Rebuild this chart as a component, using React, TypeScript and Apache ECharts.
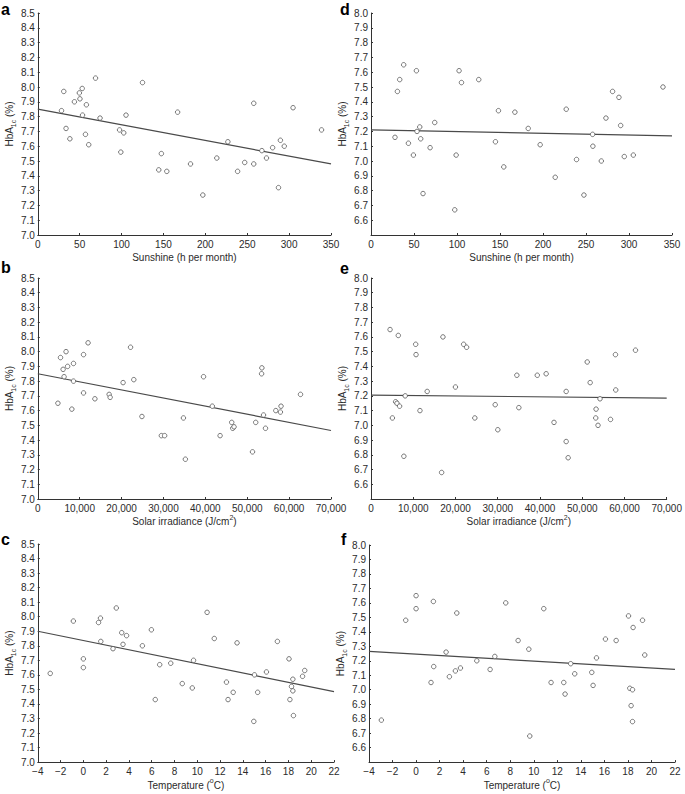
import React, { useEffect, useRef } from "react";
import * as echarts from "echarts";

// ---- Data ----
const sunshineA = [28.3,31,33.7,38.3,43.7,49.6,50.3,53,53.4,56.9,58,60.8,68.9,74.3,97.6,99.1,102.6,105.3,125,144.4,147.5,154,166.9,182.3,197,213.7,226.9,238.5,247,257.8,257.8,267.5,273,280.3,287.3,289.6,294.2,304.7,338.7];
const hbaA = [7.84,7.97,7.72,7.65,7.90,7.96,7.92,7.99,7.81,7.68,7.88,7.61,8.06,7.79,7.71,7.56,7.69,7.81,8.03,7.44,7.55,7.43,7.83,7.48,7.27,7.52,7.63,7.43,7.49,7.89,7.48,7.57,7.52,7.59,7.32,7.64,7.60,7.86,7.71];

const sunshineD = [27.9,30.7,33.4,38,43.5,49.3,52.8,53.5,56.7,57.8,60.5,68.7,74.1,97.4,99,102.4,105.2,125.3,144.7,148.2,154.4,167.3,182.8,196.7,214.2,227,239,247.6,257.7,258,267.8,273.2,280.9,288.3,290.3,294.5,305,339.5];
const hbaD = [7.16,7.47,7.55,7.65,7.12,7.04,7.61,7.20,7.23,7.15,6.78,7.09,7.26,6.67,7.04,7.61,7.53,7.55,7.13,7.34,6.96,7.33,7.22,7.11,6.89,7.35,7.01,6.77,7.18,7.10,7.00,7.29,7.47,7.43,7.24,7.03,7.04,7.50];

const solarB = [4800,5420,6040,6270,6740,7120,8130,8520,8520,10920,10920,12000,13630,17030,17270,20360,22140,22920,24860,29500,30280,34770,35230,39570,41660,43520,46300,46540,46850,51260,52030,53430,53500,53890,54360,56830,57920,58070,62720];
const hbaB = [7.65,7.96,7.88,7.83,8.00,7.90,7.61,7.80,7.92,7.98,7.72,8.06,7.68,7.71,7.69,7.79,8.03,7.81,7.56,7.43,7.43,7.55,7.27,7.83,7.63,7.43,7.52,7.48,7.49,7.32,7.52,7.85,7.89,7.57,7.48,7.60,7.59,7.63,7.71];

const solarE = [4510,5060,5830,6150,6460,6770,7780,8090,10580,10660,11590,13300,16720,17030,19990,21930,22630,24580,29400,30020,34530,35000,39360,41460,43320,46200,46200,46670,51180,51880,53200,53280,53740,54210,56700,57870,57940,62610];
const hbaE = [7.65,7.05,7.16,7.15,7.61,7.13,6.79,7.20,7.55,7.48,7.10,7.23,6.68,7.60,7.26,7.55,7.53,7.05,7.14,6.97,7.34,7.12,7.34,7.35,7.02,6.89,7.23,6.78,7.43,7.29,7.05,7.11,7.00,7.18,7.04,7.48,7.24,7.51];

const tempC = [-2.91,-0.88,0,0,1.33,1.5,1.53,2.6,2.89,3.37,3.48,3.79,5.18,5.97,6.31,6.7,7.67,8.68,9.56,9.67,10.86,11.49,12.56,12.7,13.15,13.49,14.96,15.02,15.3,16.07,17.03,18.05,18.13,18.27,18.39,18.39,18.44,19.24,19.43];
const hbaC = [7.61,7.97,7.65,7.71,7.96,7.99,7.83,7.78,8.06,7.89,7.81,7.87,7.80,7.91,7.43,7.67,7.68,7.54,7.51,7.70,8.03,7.85,7.55,7.43,7.48,7.82,7.28,7.60,7.48,7.62,7.83,7.71,7.43,7.52,7.57,7.49,7.32,7.59,7.63];

const tempF = [-2.95,-0.88,0,0,1.27,1.47,1.5,2.55,2.83,3.34,3.46,3.77,5.16,6.29,6.69,7.62,8.67,9.58,9.66,10.85,11.47,12.55,12.66,13.14,13.48,14.93,15.04,15.33,16.09,17.0,18.05,18.16,18.27,18.39,18.39,18.44,19.24,19.43];
const hbaF = [6.79,7.48,7.65,7.56,7.05,7.61,7.16,7.26,7.09,7.13,7.53,7.15,7.20,7.14,7.23,7.60,7.34,7.28,6.68,7.56,7.05,7.05,6.97,7.18,7.11,7.12,7.03,7.22,7.35,7.34,7.51,7.01,6.89,7.00,6.78,7.43,7.48,7.24];

const fitA = [[0, 7.85], [350, 7.48]];
const fitD = [[0, 7.21], [350, 7.17]];
const fitB = [[0, 7.85], [70000, 7.465]];
const fitE = [[0, 7.205], [70000, 7.185]];
const fitC = [[-4, 7.9], [22, 7.485]];
const fitF = [[-4, 7.265], [22, 7.14]];

const panelLetters = ["a", "d", "b", "e", "c", "f"];
const xNames = [
  "Sunshine (h per month)",
  "Sunshine (h per month)",
  "Solar irradiance (J/cm{sup|2})",
  "Solar irradiance (J/cm{sup|2})",
  "Temperature ({sup|o}C)",
  "Temperature ({sup|o}C)",
];
const yName = "HbA{sub|1c} (%)";

const FONT = "'Liberation Sans', Arial, Helvetica, sans-serif";
const TXT = "#2b2b2b";

export default function App() {
  const ref = useRef<HTMLDivElement>(null);

  useEffect(() => {
    if (!ref.current) return;
    const chart = echarts.init(ref.current, undefined, { renderer: "svg" });

    const grids = [
      { left: 29, top: 13, width: 302, height: 222 },
      { left: 371, top: 13, width: 301, height: 222 },
      { left: 29, top: 278, width: 302, height: 221 },
      { left: 371, top: 278, width: 300, height: 221 },
      { left: 28, top: 544, width: 306, height: 222 },
      { left: 369, top: 545, width: 306, height: 221 },
    ];

    const xRanges = [
      { min: 0, max: 350, interval: 50 },
      { min: 0, max: 350, interval: 50 },
      { min: 0, max: 70000, interval: 10000 },
      { min: 0, max: 70000, interval: 10000 },
      { min: -4, max: 22, interval: 2 },
      { min: -4, max: 22, interval: 2 },
    ];
    const nameGaps = [8, 8, 7, 7, 12, 12];

    const fmtX = (v: number) => {
      if (Math.abs(v) >= 1000) {
        return String(v).replace(/\B(?=(\d{3})+(?!\d))/g, ",");
      }
      return v < 0 ? "\u2212" + Math.abs(v) : String(v);
    };

    const axisCommon = {
      axisLine: { show: true, onZero: false, lineStyle: { color: "#333", width: 1 } },
      axisTick: { show: true, inside: true, length: 2, lineStyle: { color: "#333", width: 1 } },
      splitLine: { show: false },
    };

    const xAxis = grids.map((_, i) => ({
      type: "value",
      gridIndex: i,
      ...xRanges[i],
      ...axisCommon,
      axisLabel: {
        formatter: fmtX,
        fontSize: 10,
        color: TXT,
        fontFamily: FONT,
        margin: 4,
      },
      name: xNames[i],
      nameLocation: "middle",
      nameGap: nameGaps[i],
      nameTextStyle: {
        fontSize: 10,
        color: TXT,
        fontFamily: FONT,
        lineHeight: 16,
        rich: {
          sup: { fontSize: 7, lineHeight: 7, verticalAlign: "top", color: TXT, fontFamily: FONT },
        },
      },
    }));

    const yAxis = grids.map((_, i) => {
      const left = i % 2 === 0;
      return {
        type: "value",
        gridIndex: i,
        min: left ? 7.0 : 6.5,
        max: left ? 8.5 : 8.0,
        interval: 0.1,
        ...axisCommon,
        axisLabel: {
          formatter: (v: number) => v.toFixed(1),
          fontSize: 10,
          color: TXT,
          fontFamily: FONT,
          margin: 3,
          showMinLabel: left,
        },
        name: yName,
        nameLocation: "middle",
        nameGap: 12,
        nameTextStyle: {
          fontSize: 10,
          color: TXT,
          fontFamily: FONT,
          lineHeight: 16,
          rich: {
            sub: { fontSize: 7, lineHeight: 7, verticalAlign: "bottom", color: TXT, fontFamily: FONT },
          },
        },
      };
    });

    const pairs = (xs: number[], ys: number[]) => xs.map((x, k) => [x, ys[k]]);
    const scatterData = [
      pairs(sunshineA, hbaA),
      pairs(sunshineD, hbaD),
      pairs(solarB, hbaB),
      pairs(solarE, hbaE),
      pairs(tempC, hbaC),
      pairs(tempF, hbaF),
    ];
    const fits = [fitA, fitD, fitB, fitE, fitC, fitF];

    const series: any[] = [];
    scatterData.forEach((d, i) => {
      series.push({
        type: "line",
        xAxisIndex: i,
        yAxisIndex: i,
        data: fits[i],
        showSymbol: false,
        symbol: "none",
        lineStyle: { color: "#4a4a4a", width: 1.2 },
        silent: true,
        z: 2,
      });
      series.push({
        type: "scatter",
        xAxisIndex: i,
        yAxisIndex: i,
        data: d,
        symbol: "circle",
        symbolSize: 4.5,
        itemStyle: { color: "#ffffff", borderColor: "#555555", borderWidth: 0.8, opacity: 1 },
        z: 3,
      });
    });

    const letterPos = [
      [1, 1],
      [340, 1],
      [1, 259],
      [340, 260],
      [1, 531],
      [341, 531],
    ];
    const graphic = panelLetters.map((t, i) => ({
      type: "text",
      x: letterPos[i][0],
      y: letterPos[i][1],
      style: {
        text: t,
        font: `bold 16px ${FONT}`,
        fill: "#000",
        textVerticalAlign: "top",
      },
      silent: true,
    }));

    chart.setOption({
      animation: false,
      backgroundColor: "#ffffff",
      grid: grids.map((g) => ({ ...g, containLabel: false })),
      xAxis,
      yAxis,
      series,
      graphic,
    });

    return () => chart.dispose();
  }, []);

  return (
    <div
      ref={ref}
      style={{ position: "absolute", left: 0, top: 0, width: 685, height: 794, background: "#fff" }}
    />
  );
}
